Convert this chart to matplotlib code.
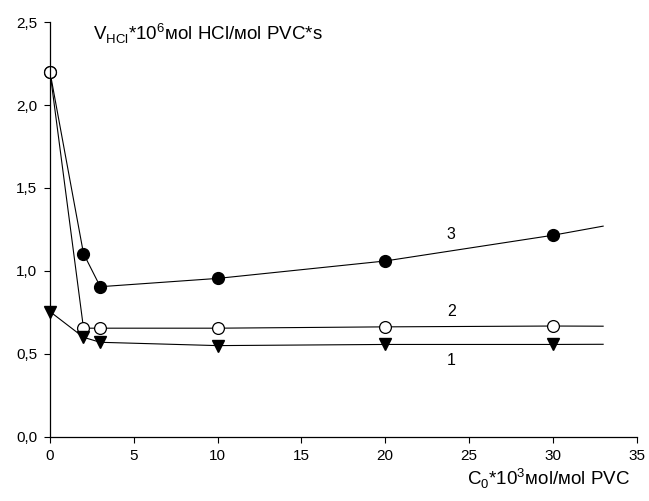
import matplotlib.pyplot as plt

plt.rcParams['font.family'] = ['Liberation Sans', 'DejaVu Sans']
plt.rcParams['mathtext.fontset'] = 'custom'
plt.rcParams['mathtext.rm'] = 'Liberation Sans'

# C0 * 10^3 mol/mol PVC
c0 = [0, 2, 3, 10, 20, 30]
# V_HCl * 10^6 for the three curves
v1 = [0.755, 0.60, 0.57, 0.55, 0.557, 0.557]
v2 = [2.20, 0.655, 0.655, 0.655, 0.663, 0.668]
v3 = [2.20, 1.105, 0.905, 0.955, 1.06, 1.215]
# where each drawn line stops past the last point
c0_end = 33
v_end = [0.558, 0.667, 1.27]

fig = plt.figure(figsize=(6.49, 5.01), dpi=100)
ax = fig.add_axes([0.077, 0.128, 0.904, 0.828])

ax.plot(c0 + [c0_end], v3 + [v_end[2]], color='black', lw=0.8, clip_on=False,
        marker='o', ms=8.5, mfc='black', mec='black', markevery=range(len(c0)))
ax.plot(c0 + [c0_end], v2 + [v_end[1]], color='black', lw=0.8, clip_on=False,
        marker='o', ms=8.5, mfc='white', mec='black', mew=0.9, markevery=range(len(c0)))
ax.plot(c0 + [c0_end], v1 + [v_end[0]], color='black', lw=0.8, clip_on=False,
        marker='v', ms=9, mfc='black', mec='black', markevery=range(len(c0)))

# curve numbers
ax.text(23.9, 1.22, '3', fontsize=11.5, ha='center', va='center')
ax.text(23.95, 0.755, '2', fontsize=11.5, ha='center', va='center')
ax.text(23.95, 0.458, '1', fontsize=11.5, ha='center', va='center')

ax.text(2.55, 2.43, r'V$_{\mathrm{HCl}}$*10$^{6}$мol HCl/мol PVC*s',
        fontsize=13.5, ha='left', va='center')
fig.text(0.971, 0.02, r'C$_{0}$*10$^{3}$мol/мol PVC',
         fontsize=13.5, ha='right', va='bottom')

ax.set_xlim(0, 35)
ax.set_ylim(0, 2.5)
ax.set_xticks(range(0, 36, 5))
ax.set_yticks([0, 0.5, 1.0, 1.5, 2.0, 2.5])
ax.set_yticklabels(['0,0', '0,5', '1,0', '1,5', '2,0', '2,5'])
ax.spines['top'].set_visible(False)
ax.spines['right'].set_visible(False)
for s in ['left', 'bottom']:
    ax.spines[s].set_linewidth(0.9)
ax.tick_params(direction='out', length=4, width=0.8, labelsize=11, pad=5)

fig.savefig('out.png', dpi=100)
